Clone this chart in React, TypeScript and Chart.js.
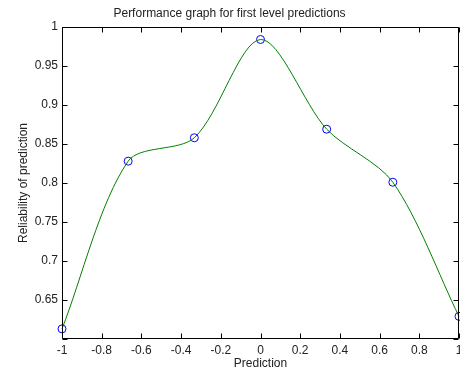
import React, { useEffect, useRef } from "react";
import { Chart, registerables } from "chart.js";

Chart.register(...registerables);

const xValues = [-1, -2 / 3, -1 / 3, 0, 1 / 3, 2 / 3, 1];
const yValues = [0.613, 0.828, 0.858, 0.984, 0.869, 0.801, 0.629];
const titleText = "Performance graph for first level predictions";
const xTitle = "Prediction";
const yTitle = "Reliability of prediction";
const xMin = -1, xMax = 1, xStep = 0.2;
const yMin = 0.6, yMax = 1, yStep = 0.05;

const FONT = "Liberation Sans, Arial, Helvetica, sans-serif";
const FS = 12;

const boxPlugin = {
  id: "matlabBox",
  afterDraw(chart: any) {
    const { ctx, chartArea: a, scales } = chart;
    ctx.save();
    ctx.strokeStyle = "#000";
    ctx.lineWidth = 1;
    ctx.beginPath();
    const L = Math.round(a.left) + 0.5, R = Math.round(a.right) - 0.5;
    const T = Math.round(a.top) + 0.5, B = Math.round(a.bottom) - 0.5;
    ctx.rect(L, T, R - L, B - T);
    const tl = 5;
    for (const t of scales.x.ticks) {
      const px = Math.round(scales.x.getPixelForValue(t.value)) + 0.5;
      ctx.moveTo(px, B); ctx.lineTo(px, B - tl);
      ctx.moveTo(px, T); ctx.lineTo(px, T + tl);
    }
    for (const t of scales.y.ticks) {
      const py = Math.round(scales.y.getPixelForValue(t.value)) + 0.5;
      ctx.moveTo(L, py); ctx.lineTo(L + tl, py);
      ctx.moveTo(R, py); ctx.lineTo(R - tl, py);
    }
    ctx.stroke();
    ctx.restore();
  },
};

export default function App() {
  const ref = useRef<HTMLCanvasElement>(null);
  useEffect(() => {
    document.body.style.margin = "0";
    const pts = xValues.map((x, i) => ({ x, y: yValues[i] }));
    const chart = new Chart(ref.current as HTMLCanvasElement, {
      type: "line",
      data: {
        datasets: [
          {
            data: pts,
            borderColor: "#008000",
            borderWidth: 1,
            pointRadius: 0,
            tension: 0.3,
            fill: false,
            clip: false,
          } as any,
          {
            data: pts,
            showLine: false,
            pointRadius: 4,
            pointStyle: "circle",
            pointBorderColor: "#0000ff",
            pointBackgroundColor: "rgba(0,0,0,0)",
            pointBorderWidth: 1,
            clip: false,
          } as any,
        ],
      },
      plugins: [boxPlugin],
      options: {
        animation: false,
        responsive: false,
        maintainAspectRatio: false,
        layout: { autoPadding: false, padding: { left: 0, right: 1, top: 0, bottom: 0 } },
        plugins: {
          legend: { display: false },
          tooltip: { enabled: false },
          title: {
            display: true,
            text: titleText,
            color: "#222",
            font: { family: FONT, size: FS, weight: "normal" },
            padding: { top: 6, bottom: 6.6 },
          },
        },
        scales: {
          x: {
            type: "linear",
            min: xMin,
            max: xMax,
            ticks: {
              stepSize: xStep,
              color: "#222",
              font: { family: FONT, size: FS },
              padding: 4,
              maxRotation: 0,
              autoSkip: false,
              callback: (v: any) => String(parseFloat(Number(v).toFixed(1))),
            },
            grid: { display: false, drawTicks: false },
            border: { display: false },
            title: {
              display: true,
              text: xTitle,
              color: "#222",
              font: { family: FONT, size: FS },
              padding: { top: 0, bottom: 0 },
            },
            afterFit: (s: any) => {
              s.height = 32;
              s.paddingLeft = 0;
              s.paddingRight = 0;
            },
          },
          y: {
            type: "linear",
            min: yMin,
            max: yMax,
            ticks: {
              stepSize: yStep,
              color: "#222",
              font: { family: FONT, size: FS },
              padding: 4,
              autoSkip: false,
              callback: (v: any) => {
                const n = parseFloat(Number(v).toFixed(2));
                return n === yMin ? "" : String(n);
              },
            },
            grid: { display: false, drawTicks: false },
            border: { display: false },
            title: {
              display: true,
              text: yTitle,
              color: "#222",
              font: { family: FONT, size: FS },
              padding: { top: 16, bottom: 0 },
            },
            afterFit: (s: any) => {
              s.width = 62;
              s.paddingTop = 0;
              s.paddingBottom = 0;
            },
          },
        },
      } as any,
    });
    return () => chart.destroy();
  }, []);
  return (
    <div style={{ position: "absolute", left: 0, top: 0, width: 460, height: 371, background: "#fff" }}>
      <canvas ref={ref} width={460} height={371} style={{ width: 460, height: 371 }} />
    </div>
  );
}
